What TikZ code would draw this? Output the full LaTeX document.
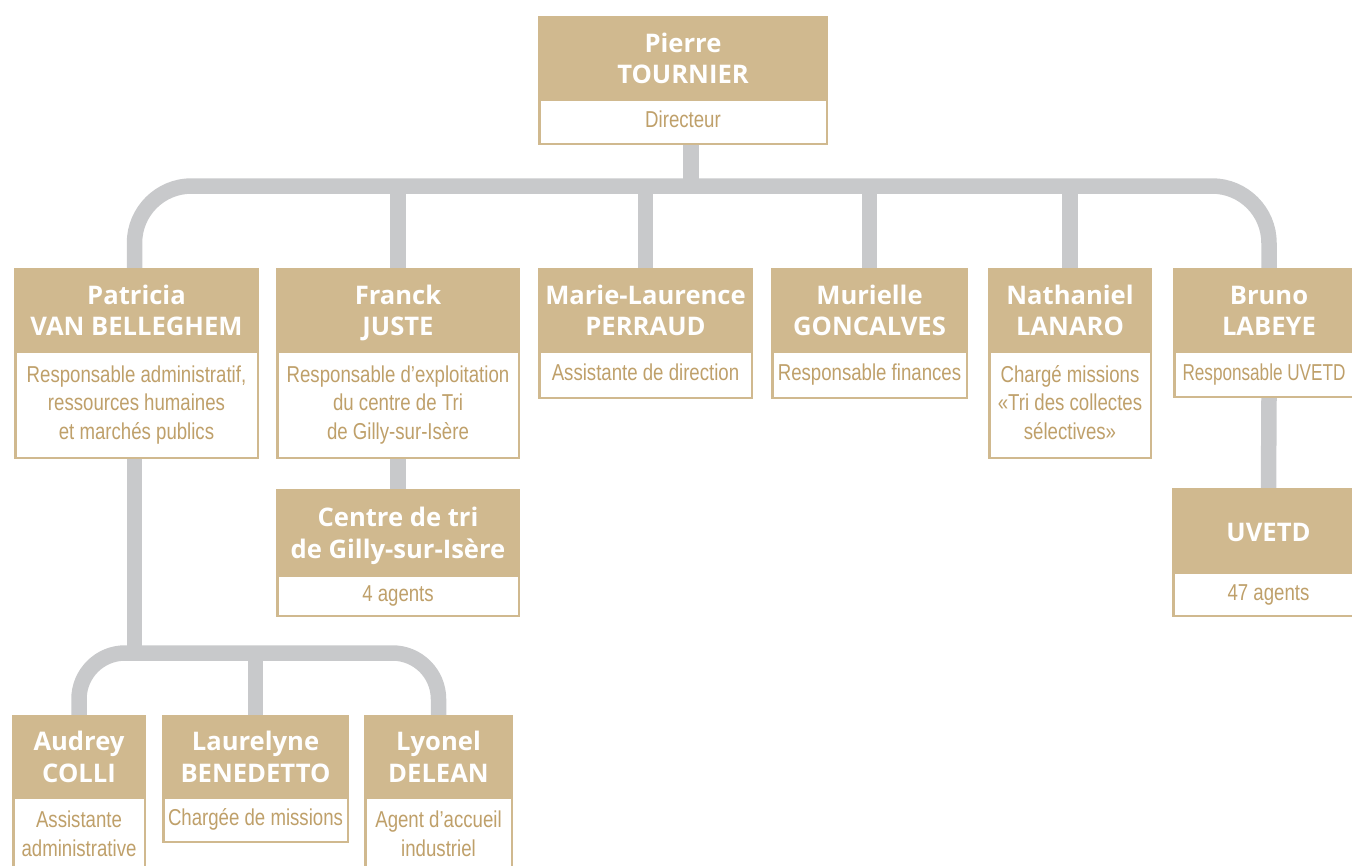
\documentclass[tikz,border=0pt]{standalone}
\usepackage{fontspec}
\setmainfont{Open Sans}
\newfontfamily\bodyfont[FakeStretch=0.81]{Liberation Sans}
\definecolor{tanfill}{HTML}{D0B98F}
\definecolor{tantext}{HTML}{BFA06A}
\definecolor{conngray}{HTML}{C8C9CB}
\pgfdeclarelayer{bg}
\pgfsetlayers{bg,main}
\tikzset{
  headbox/.style={fill=tanfill, inner sep=0pt},
  headtext/.style={text=white, inner sep=0pt, align=center,
    font=\fontsize{25.6}{31.5}\selectfont\bfseries},
  bodybox/.style={fill=white, draw=tanfill, line width=2.5pt, inner sep=0pt, align=center,
    text=tantext, font=\bodyfont\fontsize{23}{28.5}\selectfont},
  conn/.style={draw=conngray, line width=15.5pt},
}
\newcommand\orgbox[8]{%
  \node[headbox, minimum width={#3-#2}, minimum height={#5-#4}] (#1H) at ({(#2+#3)/2},{(#4+#5)/2}) {};
  \node[headtext] (#1N) at ({(#2+#3)/2},{(#4+#5)/2+3.5}) {\strut #7\strut};
  \node[bodybox, minimum width={#3-#2-2.5}, minimum height={#6-#5-1.25}] (#1B) at ({(#2+#3)/2},{(#5+#6-1.25)/2}) {\strut #8\strut};
}
\begin{document}
\begin{tikzpicture}[x=1pt,y=-1pt]
\clip (0,0) rectangle (1352,865);
% boxes
\orgbox{pierre}{538}{828}{16}{100}{145}{Pierre\\TOURNIER}{Directeur}
\orgbox{pat}{14}{259}{268}{352}{459}{Patricia\\VAN BELLEGHEM}{Responsable administratif,\\ressources humaines\\et marchés publics}
\orgbox{franck}{276}{520}{268}{352}{459}{Franck\\JUSTE}{Responsable d’exploitation\\du centre de Tri\\de Gilly-sur-Isère}
\orgbox{marie}{538}{753}{268}{352}{399}{Marie-Laurence\\PERRAUD}{Assistante de direction}
\orgbox{murielle}{771}{968}{268}{352}{399}{Murielle\\GONCALVES}{Responsable finances}
\orgbox{nathaniel}{988}{1152}{268}{352}{459}{Nathaniel\\LANARO}{Chargé missions\\«Tri des collectes\\sélectives»}
\orgbox{bruno}{1173}{1365}{268}{352}{398}{Bruno\\LABEYE}{\hspace*{-10pt}\scalebox{0.92}[1]{Responsable UVETD}}
\orgbox{centre}{276}{520}{489}{576}{617}{Centre de tri\\de Gilly-sur-Isère}{4 agents}
\orgbox{uvetd}{1172}{1365}{488}{573}{617}{\raisebox{-1pt}{UVETD}}{47 agents}
\orgbox{audrey}{12}{146}{715}{798}{876}{Audrey\\COLLI}{Assistante\\administrative}
\orgbox{laurelyne}{162}{349}{715}{798}{843}{Laurelyne\\BENEDETTO}{Chargée de missions}
\orgbox{lyonel}{364}{513}{715}{798}{876}{Lyonel\\DELEAN}{Agent d’accueil\\industriel}
% connectors
\coordinate (bus) at (691,186);
\coordinate (bus2) at (134,653);
\begin{pgfonlayer}{bg}
\draw[conn] ([xshift=8pt]pierreB.south) -- ([xshift=8pt]pierreB.south |- bus);
\draw[conn, rounded corners=57pt] ([xshift=-2pt]patH.north) |- (bus) -| (brunoH.north);
\foreach \n in {franck,marie,murielle,nathaniel}
  \draw[conn] (\n H.north) -- (\n H.north |- bus);
\draw[conn] (franckB.south) -- (centreH.north);
\draw[conn] (brunoB.south) -- (uvetdH.north);
\draw[conn] ([xshift=-2pt]patB.south) -- ([xshift=-2pt]patB.south |- bus2);
\draw[conn, rounded corners=46pt] (audreyH.north) |- (laurelyneH.north |- bus2) -| (lyonelH.north);
\draw[conn] (laurelyneH.north) -- (laurelyneH.north |- bus2);
\end{pgfonlayer}
\end{tikzpicture}
\end{document}
